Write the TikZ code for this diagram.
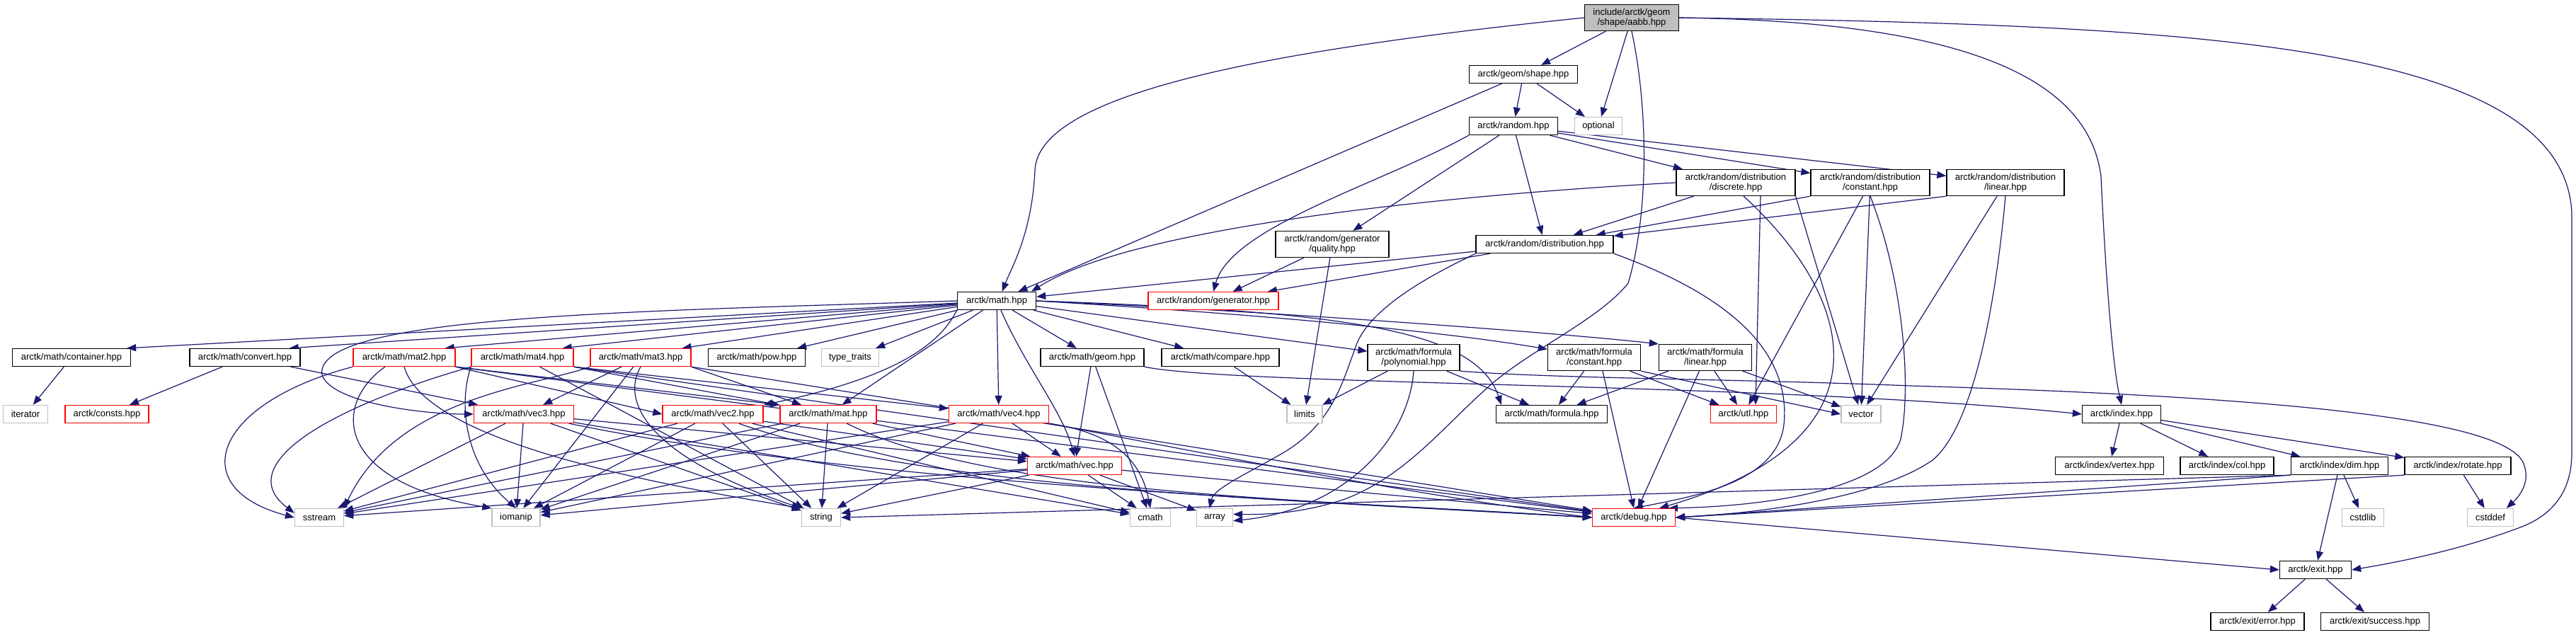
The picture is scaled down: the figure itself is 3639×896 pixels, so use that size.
\documentclass[tikz,border=0pt]{standalone}
\usepackage{fontspec}
\setmainfont{Liberation Sans}
\usetikzlibrary{arrows.meta,calc,backgrounds}
\definecolor{edgec}{HTML}{191970}
\definecolor{graybd}{HTML}{BFBFBF}
\begin{document}
\begin{tikzpicture}[x=0.5pt,y=-0.5pt,
  nd/.style={draw=black, fill=white, line width=0.65pt, inner sep=0pt, minimum height=12.5pt,
    font=\fontsize{6.5pt}{7.3pt}\selectfont, align=center},
  two/.style={minimum height=18.5pt},
  sys/.style={draw=graybd},
  trunc/.style={draw=red},
  e/.style={draw=edgec, line width=0.6pt, -{Triangle[length=6.5pt,width=5pt]}},
]
\useasboundingbox (0,0) rectangle (3639,896);
% ---------------- nodes
\node[nd,two,fill=graybd,minimum width=66.5pt] (aabb) at (2305,25) {include/arctk/geom\\/shape/aabb.hpp};
\node[nd,minimum width=76.5pt] (shape) at (2152,105) {arctk/geom/shape.hpp};
\node[nd,minimum width=62.5pt] (random) at (2138,178) {arctk/random.hpp};
\node[nd,sys,minimum width=33.5pt] (optional) at (2258,178) {optional};
\node[nd,two,minimum width=84pt] (discrete) at (2452,258) {arctk/random/distribution\\/discrete.hpp};
\node[nd,two,minimum width=84pt] (constant) at (2642,258) {arctk/random/distribution\\/constant.hpp};
\node[nd,two,minimum width=83pt] (linear) at (2833,258) {arctk/random/distribution\\/linear.hpp};
\node[nd,two,minimum width=80pt] (quality) at (1882,345) {arctk/random/generator\\/quality.hpp};
\node[nd,minimum width=97pt] (distribution) at (2182,345) {arctk/random/distribution.hpp};
\node[nd,minimum width=55.5pt] (math) at (1408,425) {arctk/math.hpp};
\node[nd,trunc,minimum width=92pt] (generator) at (1714,425) {arctk/random/generator.hpp};
\node[nd,minimum width=83.5pt] (container) at (101,505) {arctk/math/container.hpp};
\node[nd,minimum width=78pt] (convert) at (346,505) {arctk/math/convert.hpp};
\node[nd,trunc,minimum width=72pt] (mat2) at (571,505) {arctk/math/mat2.hpp};
\node[nd,trunc,minimum width=72pt] (mat4) at (738,505) {arctk/math/mat4.hpp};
\node[nd,trunc,minimum width=71pt] (mat3) at (905,505) {arctk/math/mat3.hpp};
\node[nd,minimum width=68.5pt] (pow) at (1069,505) {arctk/math/pow.hpp};
\node[nd,sys,minimum width=40.5pt] (traits) at (1201,505) {type\_traits};
\node[nd,minimum width=73pt] (geom) at (1543,505) {arctk/math/geom.hpp};
\node[nd,minimum width=83pt] (compare) at (1724,505) {arctk/math/compare.hpp};
\node[nd,two,minimum width=65pt] (poly) at (1997,505) {arctk/math/formula\\/polynomial.hpp};
\node[nd,two,minimum width=65.5pt] (fconst) at (2252,505) {arctk/math/formula\\/constant.hpp};
\node[nd,two,minimum width=65.5pt] (flin) at (2409,505) {arctk/math/formula\\/linear.hpp};
\node[nd,sys,minimum width=31.5pt] (iterator) at (36,585) {iterator};
\node[nd,trunc,minimum width=59pt] (consts) at (151,585) {arctk/consts.hpp};
\node[nd,trunc,minimum width=70.5pt] (vec3) at (740,585) {arctk/math/vec3.hpp};
\node[nd,trunc,minimum width=71pt] (vec2) at (1007,585) {arctk/math/vec2.hpp};
\node[nd,trunc,minimum width=68pt] (mat) at (1170,585) {arctk/math/mat.hpp};
\node[nd,trunc,minimum width=70.5pt] (vec4) at (1411,585) {arctk/math/vec4.hpp};
\node[nd,sys,minimum width=25pt] (limits) at (1843,585) {limits};
\node[nd,minimum width=78.5pt] (formula) at (2192,585) {arctk/math/formula.hpp};
\node[nd,trunc,minimum width=46.5pt] (utl) at (2463,585) {arctk/utl.hpp};
\node[nd,sys,minimum width=28pt] (vector) at (2629,585) {vector};
\node[nd,minimum width=55.5pt] (index) at (2997,585) {arctk/index.hpp};
\node[nd,trunc,minimum width=66.5pt] (vec) at (1518,658) {arctk/math/vec.hpp};
\node[nd,minimum width=76.5pt] (vertex) at (2980,658) {arctk/index/vertex.hpp};
\node[nd,minimum width=66pt] (col) at (3146,658) {arctk/index/col.hpp};
\node[nd,minimum width=68.5pt] (dim) at (3305,658) {arctk/index/dim.hpp};
\node[nd,minimum width=75pt] (rotate) at (3472,658) {arctk/index/rotate.hpp};
\node[nd,sys,minimum width=34.5pt] (sstream) at (451,731) {sstream};
\node[nd,sys,minimum width=34pt] (iomanip) at (729,731) {iomanip};
\node[nd,sys,minimum width=27.5pt] (string) at (1160,731) {string};
\node[nd,sys,minimum width=28.5pt] (cmath) at (1625,731) {cmath};
\node[nd,sys,minimum width=25.5pt] (array) at (1716,731) {array};
\node[nd,trunc,minimum width=58.5pt] (debug) at (2308,731) {arctk/debug.hpp};
\node[nd,sys,minimum width=29.5pt] (cstdlib) at (3338,731) {cstdlib};
\node[nd,sys,minimum width=32.5pt] (cstddef) at (3518,731) {cstddef};
\node[nd,minimum width=50.5pt] (exit) at (3271,805) {arctk/exit.hpp};
\node[nd,minimum width=66pt] (error) at (3189,878) {arctk/exit/error.hpp};
\node[nd,minimum width=76.5pt] (success) at (3355,878) {arctk/exit/success.hpp};
% ---------------- edges
\begin{scope}[on background layer]
\fill[white] (0,0) rectangle (3639,896);
% aabb
\draw[e] (aabb) -- (shape);
\draw[e] (aabb) -- (optional);
\draw[e] (aabb.west) .. controls (1800,70) and (1468,130) .. (1462,240) .. controls (1458,330) and (1428,380) .. (math.60);
\draw[e] (aabb.south) .. controls (2328,150) and (2330,300) .. (2300,400) .. controls (2260,450) and (2170,490) .. (2110,540) .. controls (2040,600) and (1990,670) .. (1900,705) .. controls (1840,725) and (1790,727) .. (array.10);
\draw[e] (aabb.east) .. controls (2750,30) and (2950,100) .. (2968,250) .. controls (2975,400) and (2985,520) .. (index.north);
\draw[e] (aabb.east) .. controls (3100,35) and (3620,60) .. (3633,300) -- (3633,640) .. controls (3633,700) and (3600,730) .. (3560,745) .. controls (3480,775) and (3400,792) .. (exit.east);
% shape
\draw[e] (shape) -- (random);
\draw[e] (shape) -- (optional);
\draw[e] (shape) -- (math);
% random
\draw[e] (random) -- (discrete);
\draw[e] (random) -- (constant);
\draw[e] (random) -- (linear);
\draw[e] (random) -- (distribution);
\draw[e] (random) -- (quality);
\draw[e] (random.south west) .. controls (1950,260) and (1740,320) .. (generator.north);
% discrete / constant / linear
\draw[e] (discrete.west) .. controls (2050,275) and (1600,320) .. (math.15);
\draw[e] (discrete) -- (distribution);
\draw[e] ($(discrete.south)+(35,0)$) -- ($(utl.north)+(17,0)$);
\draw[e] (discrete.south east) -- (vector);
\draw[e] (discrete.300) .. controls (2620,420) and (2680,620) .. (debug.20);
\draw[e] (constant.south west) -- (distribution);
\draw[e] (constant) -- (utl);
\draw[e] (constant) -- (vector);
\draw[e] (constant.south) .. controls (2690,400) and (2700,550) .. (2685,620) .. controls (2665,690) and (2500,715) .. (debug.15);
\draw[e] (linear.south west) -- (distribution);
\draw[e] (linear) -- (vector);
\draw[e] (linear.south) .. controls (2820,420) and (2790,600) .. (2730,650) .. controls (2650,705) and (2480,725) .. (debug.east);
% quality / distribution
\draw[e] (quality) -- (generator);
\draw[e] (quality) -- (limits);
\draw[e] (distribution) -- (math);
\draw[e] (distribution) -- (generator);
\draw[e] (distribution.south west) .. controls (2040,380) and (1935,430) .. (1915,490) .. controls (1895,545) and (1880,600) .. (1812,640) .. controls (1760,670) and (1715,690) .. (array.120);
\draw[e] (distribution.south east) .. controls (2450,420) and (2530,500) .. (2520,600) .. controls (2510,680) and (2400,700) .. (debug.north);
% math
\draw[e] (math) -- ($(container.north east)+(-6,0)$);
\draw[e] (math) -- ($(convert.north east)+(-16,0)$);
\draw[e] (math) -- ($(mat2.north east)+(-15,0)$);
\draw[e] (math) -- ($(mat4.north east)+(-16,0)$);
\draw[e] (math) -- ($(mat3.north east)+(-13,0)$);
\draw[e] (math) -- ($(pow.north east)+(-12,0)$);
\draw[e] (math) -- ($(traits.north east)+(-5,0)$);
\draw[e] (math) -- (geom);
\draw[e] (math) -- (compare);
\draw[e] (math) -- (poly);
\draw[e] (math.east) .. controls (1800,445) and (2050,470) .. (fconst.170);
\draw[e] (math.east) .. controls (1800,440) and (2200,470) .. (flin.north west);
\draw[e] (math.east) .. controls (1900,440) and (2085,465) .. ($(formula.north west)+(8,0)$);
\draw[e] (math.west) .. controls (900,440) and (440,445) .. (455,530) .. controls (470,570) and (600,585) .. (vec3.west);
\draw[e] (math.south west) .. controls (1330,480) and (1280,530) .. (vec2.north east);
\draw[e] (math) -- (mat);
\draw[e] (math) -- (vec4);
\draw[e] (math) .. controls (1450,520) and (1500,580) .. (vec.north);
% container / convert
\draw[e] (container) -- (iterator);
\draw[e] (convert) -- (consts);
\draw[e] (convert) -- (vec3);
% mat2
\draw[e] (mat2.south west) .. controls (300,570) and (260,690) .. (sstream.west);
\draw[e] ($(mat2.south)+(-27,0)$) .. controls (470,570) and (470,680) .. (iomanip.north west);
\draw[e] (mat2.south) .. controls (600,620) and (900,680) .. (string.north west);
\draw[e] (mat2.south east) -- (vec2.west);
\draw[e] (mat2.south east) -- (mat.north west);
\draw[e] (mat2.south east) -- (debug);
% mat4
\draw[e] (mat4.south west) .. controls (450,580) and (330,660) .. (sstream.170);
\draw[e] (mat4.south west) .. controls (650,560) and (650,650) .. (iomanip.north);
\draw[e] (mat4) -- (string);
\draw[e] (mat4.south east) -- (vec4);
\draw[e] (mat4.south east) -- (mat);
\draw[e] (mat4.south east) -- (debug);
% mat3
\draw[e] (mat3.south west) .. controls (760,545) and (560,560) .. (sstream.north east);
\draw[e] (mat3) -- (iomanip);
\draw[e] (mat3.south) .. controls (880,560) and (900,640) .. (string.north west);
\draw[e] (mat3) -- (vec3);
\draw[e] (mat3.south east) -- (mat);
\draw[e] (mat3.south east) -- (debug);
% vec3
\draw[e] (vec3) -- (sstream);
\draw[e] (vec3) -- (iomanip);
\draw[e] (vec3) -- (string);
\draw[e] (vec3) -- (vec);
\draw[e] (vec3) -- (cmath);
\draw[e] (vec3) .. controls (1200,680) and (1800,705) .. (debug.west);
% vec2
\draw[e] (vec2) -- (sstream);
\draw[e] (vec2) -- (iomanip);
\draw[e] (vec2) -- (string);
\draw[e] (vec2) -- (vec);
\draw[e] (vec2) -- (cmath);
\draw[e] (vec2) .. controls (1300,690) and (1800,705) .. (debug.west);
% mat
\draw[e] (mat) -- (sstream);
\draw[e] (mat) -- (iomanip);
\draw[e] (mat) -- (string);
\draw[e] (mat) -- (vec);
\draw[e] (mat) .. controls (1400,700) and (1850,705) .. (debug.west);
% vec4
\draw[e] (vec4) -- (sstream);
\draw[e] (vec4) -- (iomanip);
\draw[e] (vec4) -- (string);
\draw[e] (vec4) -- (vec);
\draw[e] (vec4.south east) .. controls (1560,610) and (1610,640) .. (cmath.north);
\draw[e] (vec4.south east) .. controls (1700,640) and (2000,700) .. (debug.west);
% vec
\draw[e] (vec) -- (sstream);
\draw[e] (vec) -- (iomanip);
\draw[e] (vec) -- (string);
\draw[e] (vec) -- (cmath);
\draw[e] (vec) -- (array);
\draw[e] (vec) -- (debug);
% geom / compare
\draw[e] (geom) -- (vec);
\draw[e] (geom) -- (cmath);
\draw[e] (geom.south east) .. controls (1750,545) and (2500,540) .. (index.west);
\draw[e] (compare) -- (limits);
% formula family
\draw[e] (poly) -- (formula);
\draw[e] (poly) -- (limits);
\draw[e] (poly.south) .. controls (1990,620) and (1900,720) .. (array.-10);
\draw[e] (poly.south east) .. controls (2200,535) and (2450,535) .. (2700,545) .. controls (3200,560) and (3540,590) .. (3565,655) .. controls (3575,680) and (3560,700) .. (cstddef.30);
\draw[e] (fconst) -- (formula);
\draw[e] (fconst) -- (utl);
\draw[e] (fconst.south east) -- (vector.west);
\draw[e] ($(fconst.south)+(12,0)$) -- (debug.north);
\draw[e] (flin) -- (formula);
\draw[e] (flin) -- (utl);
\draw[e] (flin) -- (vector);
\draw[e] (flin) -- (debug);
% index
\draw[e] (index) -- (vertex);
\draw[e] (index) -- (col);
\draw[e] (index) -- (dim);
\draw[e] (index) -- (rotate);
\draw[e] (dim) -- (cstdlib);
\draw[e] (dim) -- (exit);
\draw[e] (dim.south west) -- (debug.east);
\draw[e] (dim.south west) -- (string.east);
\draw[e] (rotate) -- (cstddef);
\draw[e] (rotate.south west) -- (debug.east);
% debug / exit
\draw[e] (debug.east) -- (exit.west);
\draw[e] (exit) -- (error);
\draw[e] (exit) -- (success);
\end{scope}
\end{tikzpicture}
\end{document}
